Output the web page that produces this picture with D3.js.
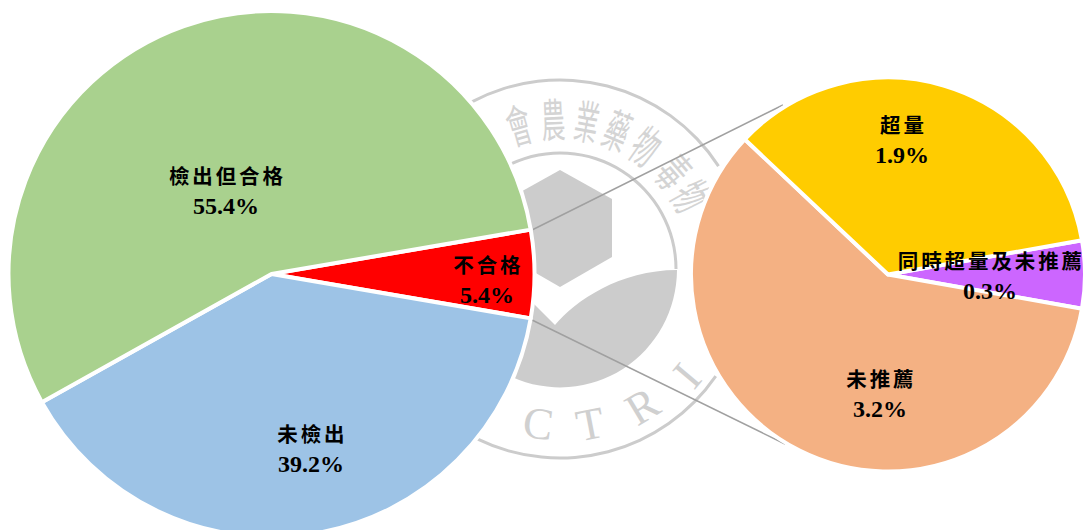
<!DOCTYPE html>
<html><head><meta charset="utf-8">
<script src="https://cdn.jsdelivr.net/npm/d3@7/dist/d3.min.js"></script>
<style>html,body{margin:0;padding:0;background:#fff;overflow:hidden}
text{font-family:"Liberation Serif","Noto Sans CJK TC",serif;font-weight:700;fill:#000}</style>
</head><body><svg id="c" width="1085" height="530"></svg>
<script>
const mainLabels=["不合格","未檢出","檢出但合格"];
const mainValues=[5.4,39.2,55.4];
const mainColors=["#ff0000","#9dc3e6","#a9d18e"];
const subLabels=["同時超量及未推薦","未推薦","超量"];
const subValues=[0.3,3.2,1.9];
const subColors=["#cc66ff","#f4b183","#ffcc00"];
const ringChars=["會","農","業","藥","物","毒","物"];
const ringAngles=[-16,-2.6,10.4,22.5,35,49.5,61];
const letters=["A","C","T","R","I"];
const letterAngles=[-31,-8,11,31,50];
const letterRadii=[172,156,158,160,166];
// label centres, page layout only
const mainLabelPos=[[487,265],[311,434],[226,176]];
const subLabelPos=[[990,261],[880,379],[902,125]];

const svg=d3.select("#c");
const G="#cccccc";
const deg=Math.PI/180;
// watermark
const wm=svg.append("g").attr("transform","translate(560,269)");
const ring=(r,a,b)=>d3.arc()({innerRadius:r-1.5,outerRadius:r+1.5,startAngle:a*deg,endAngle:b*deg});
wm.append("path").attr("d",ring(189,-28,57)).attr("fill",G);
wm.append("path").attr("d",ring(189,124.5,206)).attr("fill",G);
wm.append("path").attr("d",ring(116,-25,90)).attr("fill",G);
wm.append("path").attr("d","M-52,-70 L0,-99 L52,-70 L52,-12 L0,18 L-52,-12Z").attr("fill",G);
wm.append("path").attr("d","M117,1 A117,118 0 0 1 -48,108 L-27,34 L-5,56 C15,32 60,1 117,1Z").attr("fill",G);
wm.append("path").attr("d","M-48,108 A117,118 0 0 1 -90,75 L-27,34Z").attr("fill",G);
ringChars.forEach((c,i)=>{
 wm.append("text").text(c).attr("transform",`rotate(${ringAngles[i]}) translate(0,-152) scale(0.52,1)`)
  .attr("text-anchor","middle").attr("dominant-baseline","central")
  .style("font-size","46px").style("font-weight",400).style("fill","#d4d4d4").style("font-family","'Noto Sans CJK TC'");});
letters.forEach((c,i)=>{
 wm.append("text").text(c).attr("transform",`rotate(${-letterAngles[i]}) translate(0,${letterRadii[i]})`)
  .attr("text-anchor","middle").attr("dominant-baseline","central")
  .style("font-size","45px").style("font-weight",400).style("fill","#d0d0d0");});
// connectors
const lines=svg.append("g").attr("stroke","#a0a0a0").attr("stroke-width",1.5);
lines.append("line").attr("x1",532).attr("y1",230).attr("x2",783).attr("y2",105);
lines.append("line").attr("x1",532).attr("y1",320).attr("x2",785).attr("y2",444);
// pies
function pie(vals,labels,colors,cx,cy,r,start,pos){
 const arcs=d3.pie().sort(null).startAngle(start).endAngle(start+2*Math.PI)(vals);
 const g=svg.append("g").attr("transform",`translate(${cx},${cy})`);
 const arc=d3.arc().innerRadius(0).outerRadius(r);
 g.selectAll("path").data(arcs).join("path").attr("d",arc)
  .attr("fill",(d,i)=>colors[i]).attr("stroke","#fff").attr("stroke-width",4).attr("stroke-linejoin","round");
 const lg=svg.append("g");
 arcs.forEach((d,i)=>{
  const [x,y]=pos[i];
  lg.append("text").text(labels[i]).attr("text-anchor","middle").attr("x",x+1.4).attr("y",y+7.5)
    .style("font-size","20.5px").style("letter-spacing","2.9px");
  lg.append("text").text(vals[i].toFixed(1)+"%").attr("text-anchor","middle").attr("x",x).attr("y",y+37.5)
    .style("font-size","24px");
 });
}
const tot=d3.sum(mainValues);
pie(mainValues,mainLabels,mainColors,271.5,274,263,(90-mainValues[0]/tot*180)*deg,mainLabelPos);
const st=d3.sum(subValues);
pie(subValues,subLabels,subColors,888,274.5,197,(90-subValues[0]/st*180)*deg,subLabelPos);
</script></body></html>
